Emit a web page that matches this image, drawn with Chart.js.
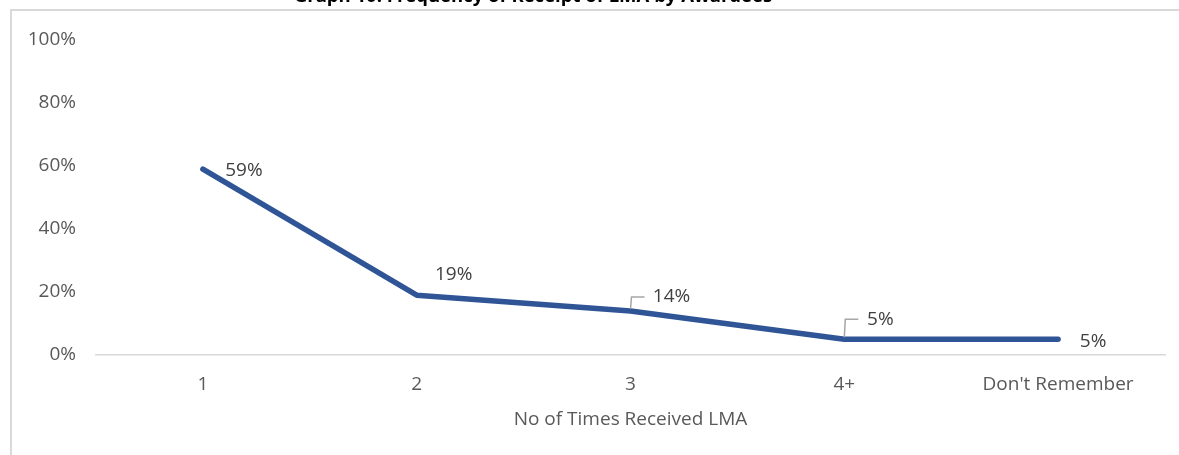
<!DOCTYPE html>
<html>
<head>
<meta charset="utf-8">
<script src="https://cdn.jsdelivr.net/npm/chart.js@4/dist/chart.umd.min.js"></script>
<style>
  html, body { margin: 0; padding: 0; background: #ffffff; overflow: hidden; }
  body { width: 1179px; height: 455px; position: relative; }
  #frame {
    position: absolute; left: 10px; top: 9px; right: 0; bottom: 0;
    border-top: 2px solid #d9d9d9; border-left: 2px solid #d9d9d9;
  }
  #chart { position: absolute; left: 0; top: -20px; }
</style>
</head>
<body>
<div id="frame"></div>
<canvas id="chart" width="1179" height="475"></canvas>
<script>
// Share of awardees by number of times they received an LMA
const categories = ['1', '2', '3', '4+', "Don't Remember"];
const shares = [59, 19, 14, 5, 5];
const yTicks = [0, 20, 40, 60, 80, 100];

const chartTitle = 'Graph 10: Frequency of Receipt of LMA by Awardees';
const xAxisTitle = 'No of Times Received LMA';

// label placement relative to each point, and whether a leader line is drawn
const labelOffsets = [[41, 1], [37, -21], [41, -14], [36, -20], [35, 2]];
const labelLeaders = [false, false, true, true, false];

const FONT = '"Open Sans", "Noto Sans", sans-serif';
const TEXT_SIZE = 19;

const titlePlugin = {
  id: 'topTitle',
  afterDraw(chart) {
    const ctx = chart.ctx;
    ctx.save();
    ctx.font = 'bold 18.5px ' + FONT;
    ctx.fillStyle = '#000000';
    ctx.textAlign = 'center';
    ctx.textBaseline = 'alphabetic';
    ctx.fillText(chartTitle, 533, 22);
    ctx.restore();
  }
};

const valueLabels = {
  id: 'valueLabels',
  afterDatasetsDraw(chart) {
    const ctx = chart.ctx;
    const meta = chart.getDatasetMeta(0);
    const values = chart.data.datasets[0].data;
    ctx.save();
    ctx.font = TEXT_SIZE + 'px ' + FONT;
    ctx.fillStyle = '#404040';
    ctx.textAlign = 'center';
    ctx.textBaseline = 'middle';
    meta.data.forEach((pt, i) => {
      const [dx, dy] = labelOffsets[i];
      const lx = pt.x + dx, ly = pt.y + dy;
      if (labelLeaders[i]) {
        ctx.strokeStyle = '#a6a6a6';
        ctx.lineWidth = 1.5;
        ctx.beginPath();
        ctx.moveTo(pt.x, pt.y - 2);
        ctx.lineTo(pt.x + 1, ly);
        ctx.lineTo(pt.x + 14, ly);
        ctx.stroke();
      }
      ctx.fillText(values[i] + '%', lx, ly);
    });
    ctx.restore();
  }
};

new Chart(document.getElementById('chart'), {
  type: 'line',
  data: {
    labels: categories,
    datasets: [{
      data: shares,
      borderColor: '#2f5597',
      borderWidth: 5.5,
      borderCapStyle: 'round',
      borderJoinStyle: 'round',
      pointRadius: 0,
      pointHoverRadius: 0,
      tension: 0,
      fill: false
    }]
  },
  options: {
    responsive: false,
    animation: false,
    events: [],
    layout: { padding: { left: 0, right: 14, top: 60, bottom: 0 } },
    plugins: {
      legend: { display: false },
      title: { display: false },
      tooltip: { enabled: false }
    },
    scales: {
      x: {
        offset: true,
        grid: { display: false, drawTicks: false },
        border: { display: true, color: '#d9d9d9', width: 1.5 },
        ticks: {
          color: '#595959',
          font: { family: FONT, size: TEXT_SIZE },
          padding: 18,
          maxRotation: 0,
          autoSkip: false
        },
        title: {
          display: true,
          text: xAxisTitle,
          color: '#595959',
          font: { family: FONT, size: TEXT_SIZE },
          padding: { top: 0, bottom: 24 }
        },
        afterFit(scale) { scale.height = 100; }
      },
      y: {
        min: yTicks[0],
        max: yTicks[yTicks.length - 1],
        grid: { display: false, drawTicks: false },
        border: { display: false },
        afterBuildTicks(scale) { scale.ticks = yTicks.map(v => ({ value: v })); },
        ticks: {
          color: '#595959',
          font: { family: FONT, size: TEXT_SIZE },
          padding: 20,
          callback: v => v + '%'
        },
        afterFit(scale) { scale.width = 96; }
      }
    }
  },
  plugins: [titlePlugin, valueLabels]
});
</script>
</body>
</html>
